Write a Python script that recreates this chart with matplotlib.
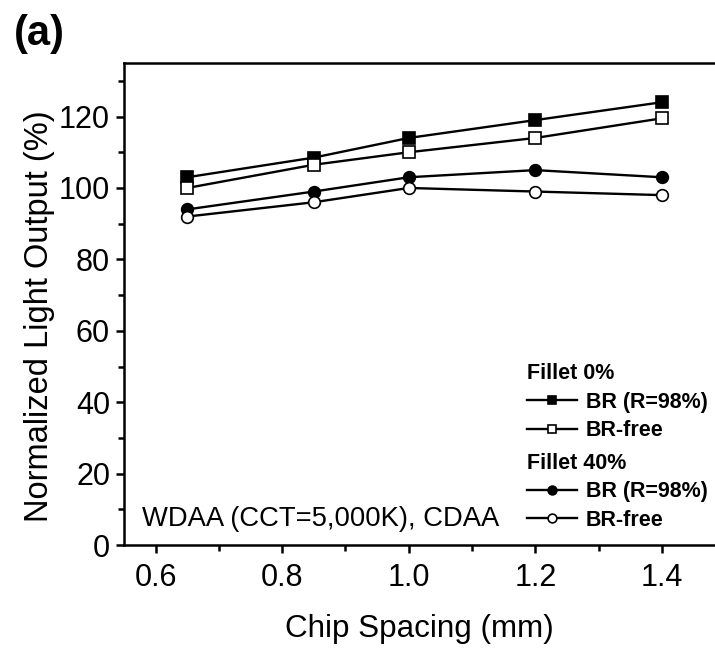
import numpy as np
import matplotlib.pyplot as plt
from matplotlib.ticker import MultipleLocator

plt.rcParams['font.family'] = ['Liberation Sans', 'DejaVu Sans']

# chip spacing (mm)
spacing = [0.65, 0.85, 1.0, 1.2, 1.4]

# normalized light output (%)
fillet0_br = [103, 108.5, 114, 119, 124]
fillet0_free = [100, 106.5, 110, 114, 119.5]
fillet40_br = [94, 99, 103, 105, 103]
fillet40_free = [92, 96, 100, 99, 98]

fig = plt.figure(figsize=(7.15, 6.49), dpi=100)
ax = fig.add_axes([0.1734, 0.160, 1.0 - 0.1734, 0.743])

kw = dict(color='black', linewidth=1.7, markersize=8.4, markeredgewidth=1.2, clip_on=False)
l1, = ax.plot(spacing, fillet0_br, marker='s', markerfacecolor='black', **kw)
l2, = ax.plot(spacing, fillet0_free, marker='s', markerfacecolor='white', **kw)
l3, = ax.plot(spacing, fillet40_br, marker='o', markerfacecolor='black', **kw)
l4, = ax.plot(spacing, fillet40_free, marker='o', markerfacecolor='white', **kw)

ax.set_xlim(0.55, 1.484)
ax.set_ylim(0, 135)
ax.xaxis.set_minor_locator(MultipleLocator(0.1))
ax.yaxis.set_major_locator(MultipleLocator(20))
ax.yaxis.set_minor_locator(MultipleLocator(10))
ax.set_xticks([0.6, 0.8, 1.0, 1.2, 1.4])
ax.set_xticklabels(['0.6', '0.8', '1.0', '1.2', '1.4'])

ax.tick_params(which='both', direction='out', width=1.8, labelsize=22)
ax.tick_params(which='major', length=6)
ax.tick_params(which='minor', length=4.5)
ax.tick_params(axis='x', pad=7)
ax.tick_params(axis='y', pad=4)
for s in ax.spines.values():
    s.set_linewidth(1.8)
ax.spines['right'].set_visible(False)

ax.set_xlabel('Chip Spacing (mm)', fontsize=22.6, labelpad=15)
ax.set_ylabel('Normalized Light Output (%)', fontsize=23.5, labelpad=3)
ax.yaxis.label.set_y(0.475)

ax.text(0.03, 0.055, 'WDAA (CCT=5,000K), CDAA', transform=ax.transAxes,
        fontsize=19.7, va='center', ha='left')

fig.text(0.02, 0.947, '(a)', fontsize=30, fontweight='bold', va='center', ha='left')

leg_kw = dict(frameon=False, markerscale=0.75, handlelength=2.3,
              handletextpad=0.4, borderaxespad=0, labelspacing=0.35,
              title_fontproperties={'weight': 'bold', 'size': 15.5},
              alignment='left', prop={'weight': 'bold', 'size': 15.5})
leg1 = ax.legend([l1, l2], ['BR (R=98%)', 'BR-free'], title='Fillet 0%',
                 loc='upper left', bbox_to_anchor=(0.668, 0.395), **leg_kw)
ax.add_artist(leg1)
leg2 = ax.legend([l3, l4], ['BR (R=98%)', 'BR-free'], title='Fillet 40%',
                 loc='upper left', bbox_to_anchor=(0.668, 0.21), **leg_kw)

fig.savefig('out.png', dpi=100)
